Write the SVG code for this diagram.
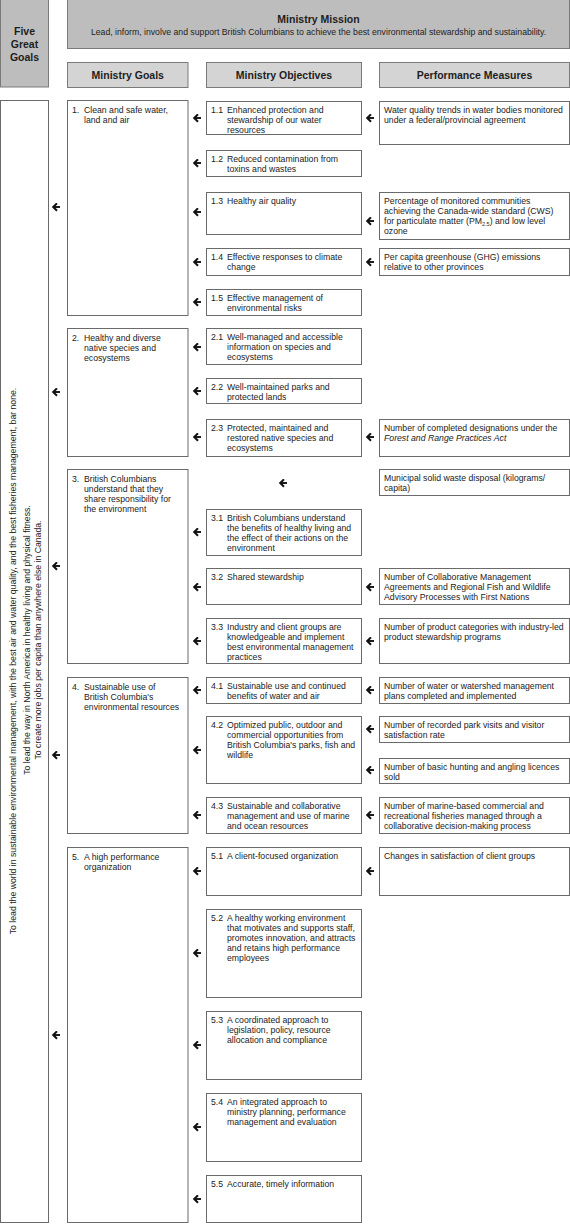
<svg xmlns="http://www.w3.org/2000/svg" width="570" height="1224" viewBox="0 0 570 1224">
<style>
.hdr{fill:#bdbdbd;stroke:#7a7a7a;stroke-width:1}
.sub{fill:#d4d4d4;stroke:#7a7a7a;stroke-width:1}
.box{fill:#fff;stroke:#6a6a6a;stroke-width:1}
text{font-family:"Liberation Sans",Arial,sans-serif;font-size:8.7px;fill:#222}
.b{font-weight:bold;font-size:10.5px;fill:#1e1e1e}
.m{text-anchor:middle}
.i{font-style:italic}
.sb{font-size:5.5px}
.arr{stroke:#111;stroke-width:1.9;fill:none}
</style>
<defs>
<marker id="ah" viewBox="0 0 8 9" refX="5.2" refY="4.5" markerWidth="8" markerHeight="9" orient="auto" markerUnits="userSpaceOnUse">
<path d="M1.2,0.8 L5,4.5 L1.2,8.2" fill="none" stroke="#111" stroke-width="2"/>
</marker>
</defs>

<g id="header">
<g id="five-great-goals"><rect class="hdr" x="0.5" y="-0.5" width="48" height="87.5"/>
<text class="b m" x="24.5" y="35">Five</text><text class="b m" x="24.5" y="48">Great</text><text class="b m" x="24.5" y="61">Goals</text></g>
<g id="mission"><rect class="hdr" x="67.5" y="-0.5" width="502" height="49"/>
<text class="b m" x="318.5" y="23">Ministry Mission</text>
<text class="m" x="318.5" y="35">Lead, inform, involve and support British Columbians to achieve the best environmental stewardship and sustainability.</text></g>
<g id="h-goals"><rect class="sub" x="67.5" y="62.5" width="120.5" height="25"/><text class="b m" x="127.75" y="79">Ministry Goals</text></g>
<g id="h-objectives"><rect class="sub" x="206.5" y="62.5" width="155" height="25"/><text class="b m" x="284" y="79">Ministry Objectives</text></g>
<g id="h-measures"><rect class="sub" x="379.5" y="62.5" width="190" height="25"/><text class="b m" x="474.5" y="79">Performance Measures</text></g>
</g>

<g id="great-goals"><rect class="box" x="0.5" y="100.5" width="48" height="1122"/>
<text class="m" transform="translate(16,661) rotate(-90)">To lead the world in sustainable environmental management, with the best air and water quality, and the best fisheries management, bar none.</text>
<text class="m" transform="translate(30,640) rotate(-90)">To lead the way in North America in healthy living and physical fitness.</text>
<text class="m" transform="translate(41,640) rotate(-90)">To create more jobs per capita than anywhere else in Canada.</text>
</g>

<g id="goal-1"><rect class="box" x="67.5" y="100.5" width="120.5" height="215"/><text x="72" y="112.5">1.</text><text x="84" y="112.5">Clean and safe water,<tspan x="84" dy="10">land and air</tspan></text></g>
<g id="goal-2"><rect class="box" x="67.5" y="328.5" width="120.5" height="128"/><text x="72" y="340.5">2.</text><text x="84" y="340.5">Healthy and diverse<tspan x="84" dy="10">native species and</tspan><tspan x="84" dy="10">ecosystems</tspan></text></g>
<g id="goal-3"><rect class="box" x="67.5" y="469.5" width="120.5" height="194"/><text x="72" y="481.5">3.</text><text x="84" y="481.5">British Columbians<tspan x="84" dy="10">understand that they</tspan><tspan x="84" dy="10">share responsibility for</tspan><tspan x="84" dy="10">the environment</tspan></text></g>
<g id="goal-4"><rect class="box" x="67.5" y="677.5" width="120.5" height="156"/><text x="72" y="689.5">4.</text><text x="84" y="689.5">Sustainable use of<tspan x="84" dy="10">British Columbia's</tspan><tspan x="84" dy="10">environmental resources</tspan></text></g>
<g id="goal-5"><rect class="box" x="67.5" y="847.5" width="120.5" height="375"/><text x="72" y="859.5">5.</text><text x="84" y="859.5">A high performance<tspan x="84" dy="10">organization</tspan></text></g>

<g id="obj-1-1"><rect class="box" x="206.5" y="101.5" width="155" height="33"/><text x="211" y="113">1.1</text><text x="227" y="113">Enhanced protection and<tspan x="227" dy="10">stewardship of our water</tspan><tspan x="227" dy="10">resources</tspan></text></g>
<g id="obj-1-2"><rect class="box" x="206.5" y="150.5" width="155" height="26"/><text x="211" y="162">1.2</text><text x="227" y="162">Reduced contamination from<tspan x="227" dy="10">toxins and wastes</tspan></text></g>
<g id="obj-1-3"><rect class="box" x="206.5" y="192.5" width="155" height="42"/><text x="211" y="204">1.3</text><text x="227" y="204">Healthy air quality</text></g>
<g id="obj-1-4"><rect class="box" x="206.5" y="248.5" width="155" height="27"/><text x="211" y="260">1.4</text><text x="227" y="260">Effective responses to climate<tspan x="227" dy="10">change</tspan></text></g>
<g id="obj-1-5"><rect class="box" x="206.5" y="289.5" width="155" height="26"/><text x="211" y="301">1.5</text><text x="227" y="301">Effective management of<tspan x="227" dy="10">environmental risks</tspan></text></g>
<g id="obj-2-1"><rect class="box" x="206.5" y="328.5" width="155" height="36"/><text x="211" y="340">2.1</text><text x="227" y="340">Well-managed and accessible<tspan x="227" dy="10">information on species and</tspan><tspan x="227" dy="10">ecosystems</tspan></text></g>
<g id="obj-2-2"><rect class="box" x="206.5" y="378.5" width="155" height="25"/><text x="211" y="390">2.2</text><text x="227" y="390">Well-maintained parks and<tspan x="227" dy="10">protected lands</tspan></text></g>
<g id="obj-2-3"><rect class="box" x="206.5" y="419.5" width="155" height="37"/><text x="211" y="431">2.3</text><text x="227" y="431">Protected, maintained and<tspan x="227" dy="10">restored native species and</tspan><tspan x="227" dy="10">ecosystems</tspan></text></g>
<g id="obj-3-1"><rect class="box" x="206.5" y="509.5" width="155" height="46"/><text x="211" y="521">3.1</text><text x="227" y="521">British Columbians understand<tspan x="227" dy="10">the benefits of healthy living and</tspan><tspan x="227" dy="10">the effect of their actions on the</tspan><tspan x="227" dy="10">environment</tspan></text></g>
<g id="obj-3-2"><rect class="box" x="206.5" y="568.5" width="155" height="36"/><text x="211" y="580">3.2</text><text x="227" y="580">Shared stewardship</text></g>
<g id="obj-3-3"><rect class="box" x="206.5" y="618.5" width="155" height="45"/><text x="211" y="630">3.3</text><text x="227" y="630">Industry and client groups are<tspan x="227" dy="10">knowledgeable and implement</tspan><tspan x="227" dy="10">best environmental management</tspan><tspan x="227" dy="10">practices</tspan></text></g>
<g id="obj-4-1"><rect class="box" x="206.5" y="677.5" width="155" height="26"/><text x="211" y="689">4.1</text><text x="227" y="689">Sustainable use and continued<tspan x="227" dy="10">benefits of water and air</tspan></text></g>
<g id="obj-4-2"><rect class="box" x="206.5" y="716.5" width="155" height="67"/><text x="211" y="728">4.2</text><text x="227" y="728">Optimized public, outdoor and<tspan x="227" dy="10">commercial opportunities from</tspan><tspan x="227" dy="10">British Columbia's parks, fish and</tspan><tspan x="227" dy="10">wildlife</tspan></text></g>
<g id="obj-4-3"><rect class="box" x="206.5" y="797.5" width="155" height="36"/><text x="211" y="809">4.3</text><text x="227" y="809">Sustainable and collaborative<tspan x="227" dy="10">management and use of marine</tspan><tspan x="227" dy="10">and ocean resources</tspan></text></g>
<g id="obj-5-1"><rect class="box" x="206.5" y="847.5" width="155" height="48"/><text x="211" y="859">5.1</text><text x="227" y="859">A client-focused organization</text></g>
<g id="obj-5-2"><rect class="box" x="206.5" y="909.5" width="155" height="88"/><text x="211" y="921">5.2</text><text x="227" y="921">A healthy working environment<tspan x="227" dy="10">that motivates and supports staff,</tspan><tspan x="227" dy="10">promotes innovation, and attracts</tspan><tspan x="227" dy="10">and retains high performance</tspan><tspan x="227" dy="10">employees</tspan></text></g>
<g id="obj-5-3"><rect class="box" x="206.5" y="1011.5" width="155" height="68"/><text x="211" y="1023">5.3</text><text x="227" y="1023">A coordinated approach to<tspan x="227" dy="10">legislation, policy, resource</tspan><tspan x="227" dy="10">allocation and compliance</tspan></text></g>
<g id="obj-5-4"><rect class="box" x="206.5" y="1093.5" width="155" height="68"/><text x="211" y="1105">5.4</text><text x="227" y="1105">An integrated approach to<tspan x="227" dy="10">ministry planning, performance</tspan><tspan x="227" dy="10">management and evaluation</tspan></text></g>
<g id="obj-5-5"><rect class="box" x="206.5" y="1175.5" width="155" height="47"/><text x="211" y="1187">5.5</text><text x="227" y="1187">Accurate, timely information</text></g>

<g id="pm-1-1"><rect class="box" x="379.5" y="101.5" width="190" height="43"/><text x="384" y="113">Water quality trends in water bodies monitored<tspan x="384" dy="10">under a federal/provincial agreement</tspan></text></g>
<g id="pm-1-3"><rect class="box" x="379.5" y="192.5" width="190" height="47"/><text x="384" y="204">Percentage of monitored communities<tspan x="384" dy="10">achieving the Canada-wide standard (CWS)</tspan><tspan x="384" dy="10">for particulate matter (PM</tspan><tspan class="sb" dy="2">2.5</tspan><tspan dy="-2">) and low level</tspan><tspan x="384" dy="10">ozone</tspan></text></g>
<g id="pm-1-4"><rect class="box" x="379.5" y="248.5" width="190" height="27"/><text x="384" y="260">Per capita greenhouse (GHG) emissions<tspan x="384" dy="10">relative to other provinces</tspan></text></g>
<g id="pm-2-3"><rect class="box" x="379.5" y="419.5" width="190" height="37"/><text x="384" y="431">Number of completed designations under the<tspan x="384" dy="10" class="i">Forest and Range Practices Act</tspan></text></g>
<g id="pm-3"><rect class="box" x="379.5" y="469.5" width="190" height="26"/><text x="384" y="481">Municipal solid waste disposal (kilograms/<tspan x="384" dy="10">capita)</tspan></text></g>
<g id="pm-3-2"><rect class="box" x="379.5" y="568.5" width="190" height="36"/><text x="384" y="580">Number of Collaborative Management<tspan x="384" dy="10">Agreements and Regional Fish and Wildlife</tspan><tspan x="384" dy="10">Advisory Processes with First Nations</tspan></text></g>
<g id="pm-3-3"><rect class="box" x="379.5" y="618.5" width="190" height="45"/><text x="384" y="630">Number of product categories with industry-led<tspan x="384" dy="10">product stewardship programs</tspan></text></g>
<g id="pm-4-1"><rect class="box" x="379.5" y="677.5" width="190" height="26"/><text x="384" y="689">Number of water or watershed management<tspan x="384" dy="10">plans completed and implemented</tspan></text></g>
<g id="pm-4-2a"><rect class="box" x="379.5" y="716.5" width="190" height="26"/><text x="384" y="728">Number of recorded park visits and visitor<tspan x="384" dy="10">satisfaction rate</tspan></text></g>
<g id="pm-4-2b"><rect class="box" x="379.5" y="758.5" width="190" height="25"/><text x="384" y="770">Number of basic hunting and angling licences<tspan x="384" dy="10">sold</tspan></text></g>
<g id="pm-4-3"><rect class="box" x="379.5" y="797.5" width="190" height="36"/><text x="384" y="809">Number of marine-based commercial and<tspan x="384" dy="10">recreational fisheries managed through a</tspan><tspan x="384" dy="10">collaborative decision-making process</tspan></text></g>
<g id="pm-5-1"><rect class="box" x="379.5" y="847.5" width="190" height="48"/><text x="384" y="859">Changes in satisfaction of client groups</text></g>

<g id="connectors" class="arr" marker-end="url(#ah)">
<path d="M60,207H53"/><path d="M60,392H53"/><path d="M60,566H53"/><path d="M60,755H53"/><path d="M60,1035H53"/>
<path d="M201,118H194"/><path d="M201,163H194"/><path d="M201,212H194"/><path d="M201,262H194"/><path d="M201,302H194"/>
<path d="M201,347H194"/><path d="M201,391H194"/><path d="M201,437H194"/>
<path d="M287,483H280"/>
<path d="M201,532H194"/><path d="M201,587H194"/><path d="M201,641H194"/>
<path d="M201,690H194"/><path d="M201,750H194"/><path d="M201,815H194"/>
<path d="M201,871H194"/><path d="M201,953H194"/><path d="M201,1045H194"/><path d="M201,1127H194"/><path d="M201,1199H194"/>
<path d="M374,118H367"/><path d="M374,221H367"/><path d="M374,262H367"/><path d="M374,437H367"/>
<path d="M374,587H367"/><path d="M374,641H367"/><path d="M374,690H367"/><path d="M374,729H367"/><path d="M374,770H367"/><path d="M374,815H367"/><path d="M374,871H367"/>
</g>
</svg>
